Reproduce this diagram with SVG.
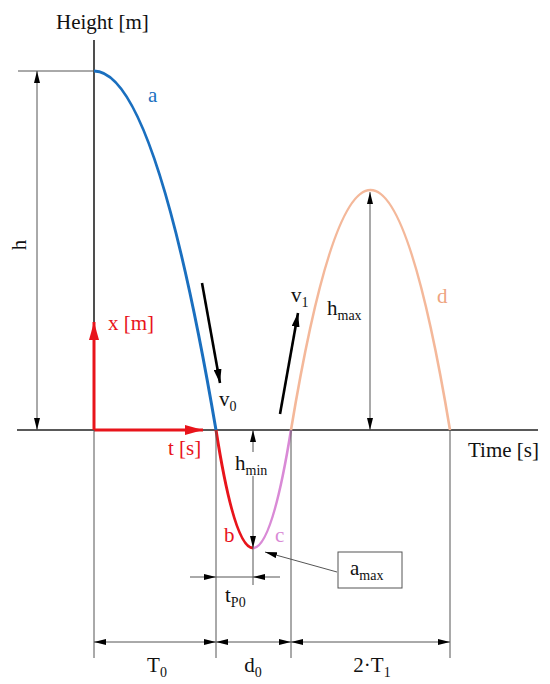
<svg xmlns="http://www.w3.org/2000/svg" width="550" height="684" viewBox="0 0 550 684">
<style>
text{font-family:"Liberation Serif","Times New Roman",serif;font-size:21px;fill:#111}
.sub{font-size:14px}
.dim{stroke:#555;stroke-width:1;fill:none}
.axis{stroke:#222;stroke-width:1.6;fill:none}
.big{stroke:#000;stroke-width:2.6;fill:none}
.red{stroke:#e8141b;stroke-width:3;fill:none}
</style>
<defs>
<marker id="ah" viewBox="0 0 12 6" refX="12" refY="3" markerWidth="12" markerHeight="6" markerUnits="userSpaceOnUse" orient="auto-start-reverse"><path d="M0,0 L12,3 L0,6 z" fill="#000"/></marker>
<marker id="ahb" viewBox="0 0 14 8" refX="14" refY="4" markerWidth="14" markerHeight="8" markerUnits="userSpaceOnUse" orient="auto"><path d="M0,0 L14,4 L0,8 z" fill="#000"/></marker>
<marker id="ahr" viewBox="0 0 18 10" refX="18" refY="5" markerWidth="18" markerHeight="10" markerUnits="userSpaceOnUse" orient="auto"><path d="M0,0 L18,5 L0,10 z" fill="#e8141b"/></marker>
</defs>
<rect width="550" height="684" fill="#fff"/>
<g id="axes">
<line class="axis" x1="94" y1="40" x2="94" y2="430"/>
<line class="axis" x1="17" y1="430" x2="538" y2="430"/>
<text x="56" y="29">Height [m]</text>
<text x="468" y="457">Time [s]</text>
</g>
<g id="curves">
<path d="M94,71 Q155,71 216,430" stroke="#1a6fbf" stroke-width="3" fill="none"/>
<path d="M216,430 Q234.5,548 253,548" stroke="#e8141b" stroke-width="3" fill="none"/>
<path d="M253,548 Q272,548 291,430" stroke="#d98ad6" stroke-width="2.6" fill="none"/>
<path d="M291,430 Q370.5,-50 450,430" stroke="#f4b89a" stroke-width="2.6" fill="none"/>
<text x="148" y="102" style="fill:#1a6fbf">a</text>
<text x="224" y="542" style="fill:#e8141b">b</text>
<text x="275" y="542" style="fill:#d98ad6">c</text>
<text x="437" y="303" style="fill:#eea47f">d</text>
</g>
<g id="frame-red">
<line class="red" x1="94" y1="430" x2="94" y2="322" marker-end="url(#ahr)"/>
<line class="red" x1="94" y1="430" x2="203" y2="430" marker-end="url(#ahr)"/>
<text x="108" y="330" style="fill:#e8141b">x [m]</text>
<text x="168" y="455" style="fill:#e8141b">t [s]</text>
</g>
<g id="velocities">
<line class="big" x1="202" y1="283" x2="220" y2="383" marker-end="url(#ahb)"/>
<line class="big" x1="280" y1="414" x2="298" y2="313" marker-end="url(#ahb)"/>
<text x="219" y="406">v<tspan class="sub" dy="5">0</tspan></text>
<text x="291" y="302">v<tspan class="sub" dy="5">1</tspan></text>
</g>
<g id="connectors">
<line class="dim" x1="18" y1="71" x2="94" y2="71"/>
<line class="dim" x1="37" y1="71" x2="37" y2="430" marker-start="url(#ah)" marker-end="url(#ah)"/>
<line class="dim" x1="370" y1="192" x2="370" y2="430" marker-start="url(#ah)" marker-end="url(#ah)"/>
<line class="dim" x1="253" y1="430" x2="253" y2="452" marker-start="url(#ah)"/>
<line class="dim" x1="253" y1="476" x2="253" y2="548" marker-end="url(#ah)"/>
<line class="dim" x1="253" y1="548" x2="253" y2="585"/>
<line class="dim" x1="190" y1="577" x2="216" y2="577" marker-end="url(#ah)"/>
<line class="dim" x1="216" y1="577" x2="253" y2="577"/>
<line class="dim" x1="280" y1="577" x2="253" y2="577" marker-end="url(#ah)"/>
<line class="dim" x1="94" y1="430" x2="94" y2="658"/>
<line class="dim" x1="216" y1="430" x2="216" y2="658"/>
<line class="dim" x1="291" y1="430" x2="291" y2="658"/>
<line class="dim" x1="450" y1="430" x2="450" y2="658"/>
<line class="dim" x1="94" y1="642" x2="216" y2="642" marker-start="url(#ah)" marker-end="url(#ah)"/>
<line class="dim" x1="216" y1="642" x2="291" y2="642" marker-start="url(#ah)" marker-end="url(#ah)"/>
<line class="dim" x1="291" y1="642" x2="450" y2="642" marker-start="url(#ah)" marker-end="url(#ah)"/>
<line class="dim" x1="337" y1="572" x2="265" y2="552" marker-end="url(#ah)"/>
</g>
<g id="labels">
<text transform="translate(26,245) rotate(-90)" text-anchor="middle">h</text>
<text x="327" y="315">h<tspan class="sub" dy="5">max</tspan></text>
<text x="235" y="470">h<tspan class="sub" dy="5">min</tspan></text>
<text x="225" y="602">t<tspan class="sub" dy="5">P0</tspan></text>
<text x="157" y="672" text-anchor="middle">T<tspan class="sub" dy="5">0</tspan></text>
<text x="253" y="672" text-anchor="middle">d<tspan class="sub" dy="5">0</tspan></text>
<text x="372" y="672" text-anchor="middle">2·T<tspan class="sub" dy="5">1</tspan></text>
</g>
<g id="amax">
<rect x="338" y="552" width="64" height="36" fill="#fff" stroke="#555" stroke-width="1"/>
<text x="350" y="575">a<tspan class="sub" dy="5">max</tspan></text>
</g>
</svg>
